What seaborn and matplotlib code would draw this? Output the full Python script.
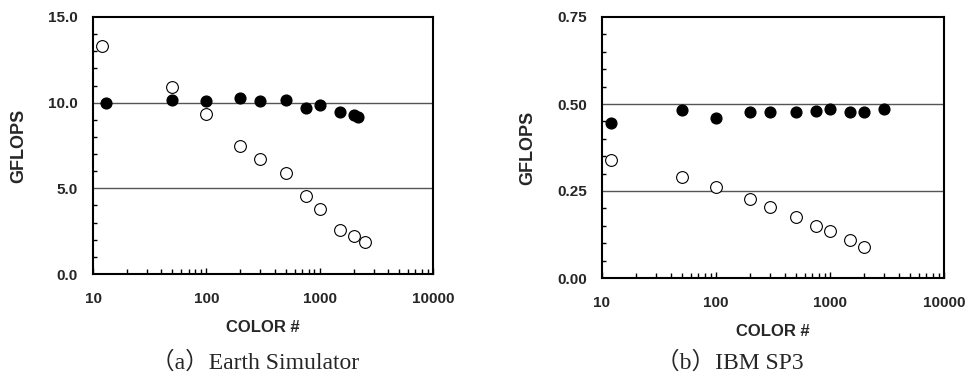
import numpy as np
import pandas as pd
import seaborn as sns
import matplotlib.pyplot as plt
from matplotlib.ticker import MultipleLocator, FormatStrFormatter

# データ (a) Earth Simulator
es_open_x = [12, 50, 100, 200, 300, 500, 750, 1000, 1500, 2000, 2500]
es_open_y = [13.3, 10.9, 9.36, 7.48, 6.70, 5.89, 4.55, 3.77, 2.56, 2.21, 1.85]
es_fill_x = [13, 50, 100, 200, 300, 500, 750, 1000, 1500, 2000, 2200]
es_fill_y = [9.97, 10.18, 10.10, 10.30, 10.08, 10.14, 9.69, 9.87, 9.46, 9.27, 9.19]

# データ (b) IBM SP3
sp_open_x = [12, 50, 100, 200, 300, 500, 750, 1000, 1500, 2000]
sp_open_y = [0.339, 0.289, 0.262, 0.226, 0.205, 0.175, 0.148, 0.135, 0.108, 0.089]
sp_fill_x = [12, 50, 100, 200, 300, 500, 750, 1000, 1500, 2000, 3000]
sp_fill_y = [0.445, 0.483, 0.461, 0.476, 0.476, 0.476, 0.480, 0.486, 0.476, 0.476, 0.486]

captions = ["（a）Earth Simulator", "（b）IBM SP3"]

sns.set_style("ticks")
plt.rcParams["font.family"] = ["Liberation Sans", "DejaVu Sans"]

fig = plt.figure(figsize=(9.67, 3.76), dpi=100)
ax1 = fig.add_axes([93 / 967, 1 - 274 / 376, 340 / 967, 257 / 376])
ax2 = fig.add_axes([602 / 967, 1 - 278 / 376, 342 / 967, 261 / 376])

panels = [
    (ax1, es_open_x, es_open_y, es_fill_x, es_fill_y, 15.0, 5.0, 1.0, "%.1f"),
    (ax2, sp_open_x, sp_open_y, sp_fill_x, sp_fill_y, 0.75, 0.25, 0.05, "%.2f"),
]

for ax, ox, oy, fx, fy, ymax, ymaj, ymin, fmt in panels:
    # 参考線
    for yl in [ymaj, 2 * ymaj]:
        ax.axhline(yl, color="#555555", lw=1.0, zorder=1)
    sns.scatterplot(x=ox, y=oy, ax=ax, s=72, color="white", edgecolor="black",
                    linewidth=0.8, zorder=3)
    sns.scatterplot(x=fx, y=fy, ax=ax, s=60, color="black", edgecolor="black",
                    linewidth=1.0, zorder=4)
    ax.set_xscale("log")
    ax.set_xlim(10, 10000)
    ax.set_ylim(0, ymax)
    ax.set_yticks(np.arange(0, ymax + ymaj / 2, ymaj))
    ax.yaxis.set_major_formatter(FormatStrFormatter(fmt))
    ax.yaxis.set_minor_locator(MultipleLocator(ymin))
    ax.set_xticks([10, 100, 1000, 10000])
    ax.set_xticklabels(["10", "100", "1000", "10000"])
    ax.tick_params(axis="both", which="both", direction="in", top=False, right=False,
                   labelsize=11, width=1.0, color="black")
    ax.tick_params(axis="x", which="major", length=4, pad=13)
    ax.tick_params(axis="y", which="major", length=0, pad=11)
    ax.tick_params(axis="y", which="minor", length=3)
    ax.tick_params(axis="x", which="minor", length=3.6)
    for lab in ax.get_xticklabels() + ax.get_yticklabels():
        lab.set_fontweight("bold")
    for sp in ax.spines.values():
        sp.set_linewidth(1.5)
        sp.set_color("black")
    ax.set_xlabel("COLOR #", fontsize=12, fontweight="bold", labelpad=10)
    ax.set_ylabel("GFLOPS", fontsize=13, fontweight="bold", labelpad=15)

for cap, cx in zip(captions, [255, 730]):
    fig.text(cx / 967, 7 / 376, cap, ha="center", va="baseline", fontsize=17,
             family=["Liberation Serif", "Noto Sans CJK JP"])

fig.savefig("out.png", dpi=100)
